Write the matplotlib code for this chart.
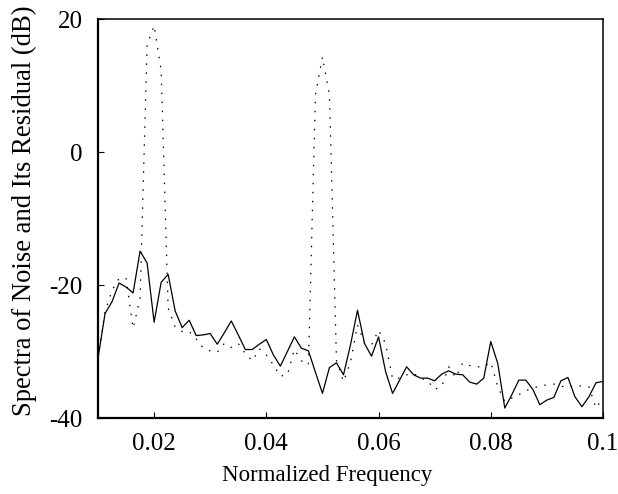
import matplotlib
matplotlib.use("Agg")
import matplotlib.pyplot as plt
import numpy as np

plt.rcParams['font.family'] = ['Liberation Serif', 'DejaVu Serif']
plt.rcParams['font.size'] = 18

# frequency bins (spacing 1/800) from 0.01 to 0.1
freq = np.arange(8, 81) / 800.0

# residual spectrum (solid)
residual = [
    -31.0, -24.3, -22.5, -19.7, -20.3, -21.2, -14.9, -16.7, -25.6, -19.6,
    -18.4, -23.9, -26.4, -25.3, -27.6, -27.5, -27.3, -28.9, -27.2, -25.4,
    -27.5, -29.7, -29.7, -28.9, -28.2, -30.5, -32.2, -30.0, -27.8, -29.5,
    -29.9, -33.1, -36.3, -32.4, -31.7, -33.5, -29.0, -23.8, -28.8, -30.7,
    -27.8, -33.0, -36.3, -34.3, -32.3, -33.5, -34.0, -34.0, -34.4, -33.4,
    -32.9, -33.4, -33.5, -34.6, -34.9, -34.0, -28.5, -31.8, -38.5, -36.5,
    -34.3, -34.3, -35.7, -38.0, -37.3, -36.9, -34.4, -33.9, -36.8, -38.3,
    -36.8, -34.7, -34.5,
]

# noise spectrum (dotted)
noise = [
    -31.0, -24.0, -20.8, -19.0, -19.0, -26.5, -22.0, 16.1, 19.0, 12.3,
    -23.5, -26.3, -27.0, -27.0, -28.1, -29.5, -29.9, -30.1, -28.8, -29.4,
    -28.8, -30.3, -31.4, -29.6, -30.5, -32.0, -33.7, -33.5, -29.7, -31.4,
    -32.0, 8.6, 14.3, 8.6, -31.3, -34.5, -31.6, -26.0, -28.7, -29.0,
    -26.8, -28.8, -34.1, -34.0, -33.5, -33.3, -34.0, -34.4, -35.7, -35.3,
    -32.3, -33.9, -31.7, -32.1, -32.3, -32.3, -31.6, -35.3, -37.5, -37.0,
    -36.5, -35.9, -35.5, -35.2, -35.0, -34.9, -35.2, -35.4, -35.1, -35.2,
    -35.3, -38.5, -37.0,
]

fig = plt.figure(figsize=(6.18, 4.94), dpi=100)
ax = fig.add_axes([0.1586, 0.1538, 0.8171, 0.8077])

ax.plot(freq, residual, color='black', linewidth=0.9, linestyle='-')
ax.plot(freq, noise, color='black', linewidth=0.9, linestyle=(0, (1.2, 6.0)))

ax.set_xlim(0.01, 0.1)
ax.set_ylim(-40, 20)
ax.set_xticks([0.02, 0.04, 0.06, 0.08, 0.1])
ax.set_xticklabels(['0.02', '0.04', '0.06', '0.08', '0.1'])
ax.set_yticks([-40, -20, 0, 20])
ax.set_yticklabels(['-40', '-20', '0', '20'])

ax.tick_params(direction='in', length=4, width=0.8, pad=11, top=False, right=False)
for side in ['left', 'bottom']:
    ax.spines[side].set_linewidth(1.6)
for side in ['top', 'right']:
    ax.spines[side].set_linewidth(1.1)

ax.set_xlabel('Normalized Frequency', fontsize=16.5)
ax.set_ylabel('Spectra of Noise and Its Residual (dB)', fontsize=19.2)
ax.xaxis.set_label_coords(0.4535, -0.118)
ax.yaxis.set_label_coords(-0.121, 0.519)

fig.savefig('out.png', dpi=100)
